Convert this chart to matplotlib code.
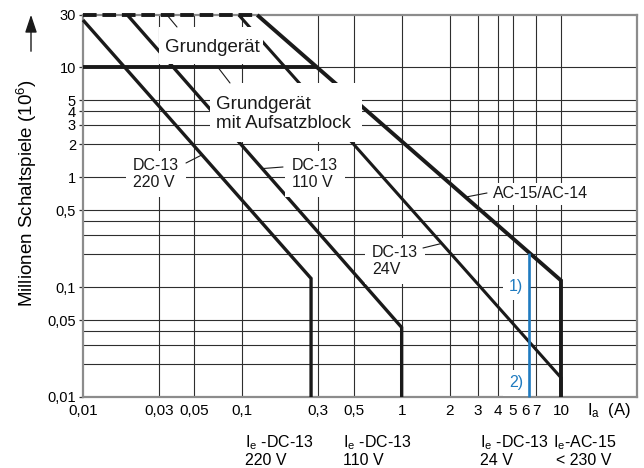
import numpy as np
import matplotlib
matplotlib.use('Agg')
import matplotlib.pyplot as plt
from matplotlib.patches import Rectangle
from matplotlib.ticker import NullLocator

plt.rcParams['font.family'] = ['Liberation Sans', 'DejaVu Sans']
plt.rcParams['mathtext.fontset'] = 'custom'
plt.rcParams['mathtext.rm'] = 'Liberation Sans'
plt.rcParams['mathtext.it'] = 'Liberation Sans:italic'

# ---------------- data ----------------
x_ticks = [0.01, 0.03, 0.05, 0.1, 0.3, 0.5, 1, 2, 3, 4, 5, 6, 7, 10]
x_tick_labels = ['0,01', '0,03', '0,05', '0,1', '0,3', '0,5', '1', '2', '3',
                 '4', '5', '6', '7', '10']
y_ticks = [0.01, 0.05, 0.1, 0.5, 1, 2, 3, 4, 5, 10, 30]
y_tick_labels = ['0,01', '0,05', '0,1', '0,5', '1', '2', '3', '4', '5', '10', '30']
grid_x = [0.03, 0.05, 0.1, 0.3, 0.5, 1, 2, 3, 4, 5, 7, 10]
grid_y = [0.02, 0.03, 0.04, 0.05, 0.1, 0.2, 0.3, 0.4, 0.5, 1, 2, 3, 4, 5, 10]

dc220_x = [0.01, 0.27, 0.27]
dc220_y = [27, 0.12, 0.01]
dc110_x = [0.019, 1.0, 1.0]
dc110_y = [30, 0.043, 0.01]
dc24_x = [0.095, 10, 10]
dc24_y = [30, 0.015, 0.01]
ac15_x = [0.124, 10, 10]
ac15_y = [30, 0.115, 0.01]
basic_level = 30      # Grundgerät
block_level = 10      # Grundgerät mit Aufsatzblock
blue_x = 6.3
blue_bottom = 0.01


def x_on(xs, ys, yv):
    lx = np.log10(xs[:2]); ly = np.log10(ys[:2])
    return 10 ** np.interp(np.log10(yv), ly[::-1], lx[::-1])


def y_on(xs, ys, xv):
    lx = np.log10(xs[:2]); ly = np.log10(ys[:2])
    return 10 ** np.interp(np.log10(xv), lx, ly)


W, H = 644, 468
fig = plt.figure(figsize=(W / 100, H / 100), dpi=100)
ax = fig.add_axes([83 / W, 1 - 397 / H, 554 / W, 382 / H])
ax.set_xscale('log'); ax.set_yscale('log')
ax.set_xlim(0.01, 30); ax.set_ylim(0.01, 30)

for s in ax.spines.values():
    s.set_color('#8c8c8c'); s.set_linewidth(1.6)

for gx in grid_x:
    ax.axvline(gx, color='#2e2e2e', lw=0.8, zorder=1)
for gy in grid_y:
    ax.axhline(gy, color='#2e2e2e', lw=0.8, zorder=1)

ax.set_xticks(x_ticks); ax.set_xticklabels(x_tick_labels)
ax.set_yticks(y_ticks); ax.set_yticklabels(y_tick_labels)
ax.xaxis.set_minor_locator(NullLocator()); ax.yaxis.set_minor_locator(NullLocator())
ax.tick_params(axis='x', length=0, pad=5, labelsize=11)
ax.tick_params(axis='y', length=3, width=0.9, color='#333333', pad=2, labelsize=10.5)

lk = dict(color='#1a1a1a', solid_joinstyle='miter', solid_capstyle='butt',
          clip_on=False, zorder=3)
ax.plot(dc220_x, dc220_y, lw=2.4, **lk)
ax.plot(dc110_x, dc110_y, lw=2.4, **lk)
ax.plot(dc24_x, dc24_y, lw=2.2, **lk)
ax.plot(ac15_x, ac15_y, lw=2.8, **lk)
ax.plot([dc220_x[0], ac15_x[0]], [basic_level, basic_level], lw=2.8,
        dashes=(3.5, 1.5), color='#1a1a1a', clip_on=False, zorder=3)
ax.plot([dc220_x[0], x_on(ac15_x, ac15_y, block_level)], [block_level, block_level],
        lw=2.8, color='#1a1a1a', clip_on=False, zorder=3, solid_capstyle='butt')

# white masks behind the big labels
def px_rect(x0, y0, x1, y1):
    ax.add_patch(Rectangle(((x0 - 83) / 554, (397 - y1) / 382), (x1 - x0) / 554,
                           (y1 - y0) / 382, transform=ax.transAxes,
                           facecolor='white', edgecolor='none', zorder=4))

px_rect(159, 27, 263, 64)
px_rect(210, 83, 362, 142)

def ax_pos(px, py):
    return ((px - 83) / 554, (397 - py) / 382)

tk = dict(transform=ax.transAxes, zorder=5, color='#1a1a1a')
ax.text(*ax_pos(212, 48), 'Grundgerät', ha='center', va='center', fontsize=13.5, **tk)
ax.text(*ax_pos(216, 114), 'Grundgerät\nmit Aufsatzblock', ha='left', va='center',
        fontsize=13.5, linespacing=1.1, **tk)

box = dict(boxstyle='square,pad=0.45', facecolor='white', edgecolor='none')
ax.text(*ax_pos(133, 174), 'DC-13\n220 V', ha='left', va='center', fontsize=11.5,
        linespacing=1.15, bbox=box, **tk)
ax.text(*ax_pos(292, 174), 'DC-13\n110 V', ha='left', va='center', fontsize=11.5,
        linespacing=1.15, bbox=box, **tk)
ax.text(*ax_pos(493, 194), 'AC-15/AC-14', ha='left', va='center', fontsize=11.5,
        bbox=dict(boxstyle='square,pad=0.25', facecolor='white', edgecolor='none'), **tk)
ax.text(*ax_pos(372, 261), 'DC-13\n24V', ha='left', va='center', fontsize=11.5,
        linespacing=1.15, bbox=box, **tk)

blue = '#1f7bc0'
bbox_b = dict(boxstyle='square,pad=0.35', facecolor='white', edgecolor='none')
ax.text(*ax_pos(516, 287), '1)', ha='center', va='center', fontsize=11.5, color=blue,
        transform=ax.transAxes, zorder=5, bbox=bbox_b)
ax.text(*ax_pos(516, 383), '2)', ha='center', va='center', fontsize=11.5, color=blue,
        transform=ax.transAxes, zorder=5, bbox=bbox_b)
ax.plot([blue_x, blue_x], [blue_bottom, y_on(ac15_x, ac15_y, blue_x)], color=blue,
        lw=1.9, zorder=6, clip_on=False, solid_capstyle='butt')

# leaders
ld = dict(arrowstyle='-', lw=0.8, color='#1a1a1a', shrinkA=0, shrinkB=0)
def leader(xy, pxy):
    ax.annotate('', xy=xy, xytext=ax_pos(*pxy), textcoords='axes fraction',
                arrowprops=ld, zorder=6)

leader((10 ** ((167 - 83) / 159.3 - 2), basic_level), (177, 27))
leader((10 ** ((218 - 83) / 159.3 - 2), block_level), (230, 83))
leader((x_on(dc220_x, dc220_y, 1.6), 1.6), (186, 163))
leader((x_on(dc110_x, dc110_y, 1.2), 1.2), (283, 167))
leader((x_on(ac15_x, ac15_y, 0.66), 0.66), (487, 193))
leader((x_on(dc24_x, dc24_y, 0.25), 0.25), (423, 248))

# axis titles / labels in figure pixels
def ftext(px, py, s, **kw):
    fig.text(px / W, 1 - py / H, s, **kw)

ftext(27, 193, 'Millionen Schaltspiele (10$^{6}$)', rotation=90, ha='center',
      va='center', fontsize=13.5)
fig.add_artist(matplotlib.patches.FancyArrowPatch(
    (31 / W, 1 - 54 / H), (31 / W, 1 - 12 / H), transform=fig.transFigure,
    arrowstyle='-|>,head_length=0.9,head_width=0.3', mutation_scale=12,
    lw=1.0, color='#1a1a1a'))

ftext(587, 415, r'I$_\mathrm{a}$  (A)', ha='left', va='baseline', fontsize=12)

for px, l1, l2 in [(245, r'I$_\mathrm{e}$ -DC-13', '220 V'),
                   (343, r'I$_\mathrm{e}$ -DC-13', '110 V'),
                   (480, r'I$_\mathrm{e}$ -DC-13', '24 V'),
                   (553, r'I$_\mathrm{e}$-AC-15', '< 230 V')]:
    ftext(px, 447, l1, ha='left', va='baseline', fontsize=11.5)
    ftext(px + (3 if l2.startswith('<') else 0), 465, l2, ha='left', va='baseline',
          fontsize=11.5)

fig.savefig('out.png', dpi=100)
